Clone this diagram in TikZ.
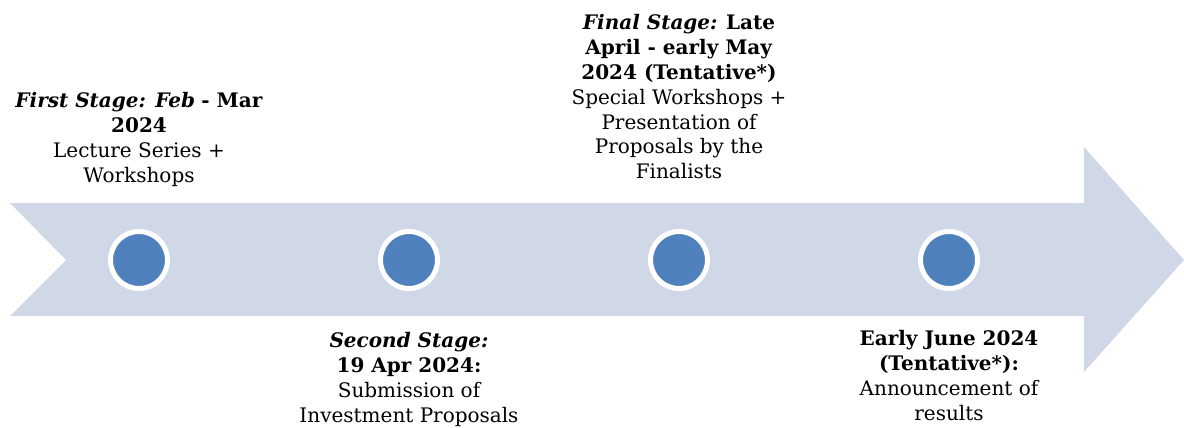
\documentclass[tikz,border=0pt]{standalone}
\usepackage{fontspec}
\setmainfont{DejaVu Serif}
\definecolor{arrowfill}{HTML}{D0D8E8}
\definecolor{dotblue}{HTML}{4F81BD}
\begin{document}
\begin{tikzpicture}[x=1pt,y=-1pt,
  dot/.style={circle,fill=dotblue,draw=white,line width=5pt,minimum size=57pt,inner sep=0pt},
  label/.style={anchor=north,align=center,inner sep=0pt,font=\fontsize{20}{24.8}\selectfont}]
\useasboundingbox (0,0) rectangle (1184,428);
\fill[arrowfill] (10,203) -- (1084,203) -- (1084,147) -- (1184,260) -- (1084,372) -- (1084,316) -- (10,316) -- (66,260) -- cycle;
\node[dot] (c1) at (139,260) {};
\node[dot] (c2) at (409,260) {};
\node[dot] (c3) at (679,260) {};
\node[dot] (c4) at (949,260) {};
\node[label] (t1) at (139,92.5) {\textbf{\textit{First Stage: Feb}} \textbf{- Mar}\\\textbf{2024}\\Lecture Series +\\Workshops};
\node[label] (t3) at (679,14.5) {\textbf{\textit{Final Stage:}} \textbf{Late}\\\textbf{April - early May}\\\textbf{2024 (Tentative*)}\\Special Workshops +\\Presentation of\\Proposals by the\\Finalists};
\node[label] (t2) at (409,332.5) {\textbf{\textit{Second Stage:}}\\\textbf{19 Apr 2024:}\\Submission of\\Investment Proposals};
\node[label] (t4) at (949,330.5) {\textbf{Early June 2024}\\\textbf{(Tentative*):}\\Announcement of\\results};
\end{tikzpicture}
\end{document}
